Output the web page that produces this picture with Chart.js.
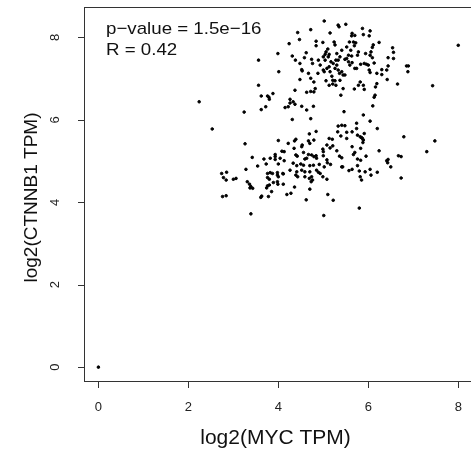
<!DOCTYPE html>
<html>
<head>
<meta charset="utf-8">
<script src="https://cdn.jsdelivr.net/npm/chart.js@4.4.1/dist/chart.umd.min.js"></script>
<style>
html, body { margin: 0; padding: 0; background: #fff; overflow: hidden; }
#wrap { position: absolute; left: 0; top: 0; width: 480px; height: 454px; }
canvas { display: block; }
</style>
</head>
<body>
<div id="wrap"><canvas id="scatter" width="480" height="454"></canvas></div>
<script>
// log2(MYC TPM) per sample
const mycLog2 = [
	5.02, 4.43, 4.72, 5.15, 4.24, 4.47, 4.84, 4.99, 4.84, 3.99,
	3.56, 4.31, 4.62, 4.58, 4.38, 4.48, 4.74, 4.89, 4.76, 4.93,
	4.52, 4.53, 4.67, 4.88, 4.01, 4.48, 4.72, 4.79, 3.56,
	4.37, 4.82, 4.63, 4.72, 4.79, 3.62, 3.76, 3.88, 3.80, 3.79,
	4.26, 4.33, 4.37, 4.26, 4.15, 4.22, 3.72, 3.62, 4.52, 4.63,
	4.78, 3.24, 2.24, 4.31, 4.72, 2.53,
	5.33, 5.35, 5.50, 5.87, 6.04, 5.64, 5.63, 5.70, 5.89, 6.02,
	5.24, 5.26, 5.58, 5.67, 5.72, 5.69, 6.24, 6.11, 6.09, 6.54,
	6.56, 8.00, 5.10, 5.06, 5.04, 5.13, 5.41, 5.52, 5.61, 5.00,
	5.04, 5.11, 5.30, 5.33, 5.37, 5.48, 5.52, 5.56, 5.63, 5.78,
	5.76, 5.94, 6.06, 6.04, 6.09, 6.44, 6.56, 5.17, 5.22, 5.28,
	5.30, 5.56, 5.59, 5.64, 5.83, 5.91, 5.96, 6.00, 6.13, 5.00,
	5.02, 5.08, 5.13, 5.15, 5.26, 5.33, 5.36, 5.41, 5.44, 5.48,
	5.70, 5.74, 6.02, 6.04, 6.30, 6.41, 6.44, 6.85, 6.89, 6.88,
	6.19, 6.30, 5.19, 5.21, 5.26, 5.06, 5.37, 5.13, 5.21, 5.28,
	5.82, 5.78, 5.89, 5.91, 5.69, 6.19, 6.16, 6.42, 6.65, 7.43,
	5.44, 5.39, 6.15, 6.13, 6.10, 5.46, 5.89, 6.04, 5.33, 5.41,
	5.48, 5.74, 5.74, 6.20,
	3.26, 4.00, 4.22, 4.36, 4.39, 4.52, 4.53, 4.69, 4.84, 4.67,
	4.79, 4.70, 4.35, 4.39, 4.42, 4.56, 4.67, 4.74, 4.79, 4.84,
	4.59, 4.63, 4.85, 5.08, 3.42, 3.68, 3.82, 3.93, 3.93, 3.93,
	4.04, 4.08, 4.13, 4.13, 4.00, 3.73, 3.54, 3.28, 4.33, 4.41,
	4.50, 4.56, 4.70, 4.78, 4.91, 4.26, 4.41, 4.52, 4.59, 4.70,
	4.85, 4.89, 3.76, 3.82, 3.87, 3.98, 3.98, 4.00, 4.10, 4.11,
	3.76, 3.80, 3.89, 3.98, 3.99, 4.11, 3.76, 3.80, 3.74, 2.74,
	2.85, 2.78, 2.84, 3.00, 3.06, 3.31, 3.36, 3.37, 3.43, 3.39,
	4.39, 4.43, 4.59, 4.69, 4.74, 4.76, 4.73, 4.36, 4.70, 2.76,
	2.84, 3.61, 3.63, 3.78, 3.85, 4.19, 4.28, 4.62, 3.39,
	5.32, 5.39, 5.52, 5.64, 5.52, 5.76, 5.82, 5.87, 5.89, 5.88,
	5.85, 5.91, 6.79, 7.48, 5.13, 5.20, 5.08, 5.15, 5.21, 4.99,
	5.00, 5.00, 5.30, 5.64, 5.83, 6.24, 7.30, 5.70, 5.67, 5.36,
	5.41, 5.76, 5.83, 5.95, 6.41, 6.43, 6.44, 6.67, 6.73, 5.09,
	5.16, 5.02, 5.41, 5.43, 5.76, 6.50, 5.57, 5.64, 5.80, 5.93,
	6.04, 6.20, 4.93, 4.99, 5.08, 5.82, 5.85, 6.06, 6.73, 5.10,
	5.22, 5.80, 5.01,
	0.00
];

// log2(CTNNB1 TPM), same sample order
const ctnnb1Log2 = [
	8.40, 8.12, 8.19, 8.11, 7.85, 7.95, 7.91, 7.88, 7.80, 7.61,
	7.45, 7.55, 7.63, 7.51, 7.45, 7.37, 7.47, 7.45, 7.37, 7.33,
	7.22, 7.19, 7.13, 7.13, 7.17, 6.98, 7.01, 6.92, 6.84,
	6.72, 6.76, 6.67, 6.69, 6.68, 6.58, 6.58, 6.64, 6.50, 6.55,
	6.50, 6.44, 6.38, 6.41, 6.30, 6.32, 6.32, 6.25, 6.33, 6.24,
	6.33, 6.19, 6.44, 6.01, 6.03, 5.78,
	8.30, 8.26, 8.32, 8.22, 8.16, 8.10, 8.04, 8.05, 8.07, 8.04,
	7.89, 7.82, 7.89, 7.89, 7.87, 7.80, 7.88, 7.82, 7.76, 7.75,
	7.64, 7.81, 7.72, 7.65, 7.59, 7.59, 7.69, 7.77, 7.69, 7.53,
	7.45, 7.53, 7.61, 7.45, 7.53, 7.47, 7.49, 7.57, 7.55, 7.65,
	7.57, 7.61, 7.65, 7.57, 7.51, 7.51, 7.49, 7.41, 7.37, 7.45,
	7.33, 7.41, 7.33, 7.39, 7.35, 7.37, 7.35, 7.33, 7.38, 7.21,
	7.17, 7.25, 7.29, 7.17, 7.25, 7.21, 7.13, 7.17, 7.09, 7.09,
	7.25, 7.25, 7.21, 7.15, 7.22, 7.21, 7.31, 7.31, 7.31, 7.17,
	7.13, 7.10, 7.06, 6.96, 6.95, 6.95, 6.96, 6.84, 6.87, 6.84,
	6.92, 6.84, 6.84, 6.74, 6.75, 6.88, 6.80, 6.98, 6.87, 6.83,
	6.76, 6.60, 6.60, 6.55, 6.34, 6.20, 6.12, 5.97, 5.85, 5.87,
	5.86, 5.92, 5.79, 5.79,
	5.42, 5.50, 5.43, 5.49, 5.53, 5.35, 5.39, 5.66, 5.72, 5.49,
	5.51, 5.43, 5.31, 5.15, 5.12, 5.21, 5.16, 5.15, 5.11, 5.13,
	5.05, 5.07, 5.07, 5.03, 5.09, 5.05, 5.07, 5.16, 5.11, 5.04,
	5.07, 5.24, 5.23, 5.01, 4.93, 4.93, 4.88, 4.80, 4.95, 4.89,
	4.93, 4.90, 4.89, 4.90, 4.92, 4.78, 4.74, 4.78, 4.74, 4.74,
	4.78, 4.73, 4.70, 4.72, 4.70, 4.72, 4.66, 4.62, 4.70, 4.69,
	4.60, 4.56, 4.48, 4.50, 4.44, 4.44, 4.40, 4.42, 4.35, 4.70,
	4.73, 4.60, 4.54, 4.56, 4.58, 4.50, 4.44, 4.35, 4.34, 4.38,
	4.66, 4.62, 4.62, 4.58, 4.62, 4.54, 4.50, 4.37, 4.32, 4.14,
	4.16, 4.12, 4.15, 4.14, 4.26, 4.19, 4.22, 4.06, 3.72,
	5.71, 5.61, 5.70, 5.71, 5.55, 5.63, 5.59, 5.55, 5.51, 5.45,
	5.57, 5.67, 5.59, 5.49, 5.55, 5.53, 5.39, 5.32, 5.37, 5.29,
	5.23, 5.13, 5.25, 5.35, 5.31, 5.25, 5.23, 5.21, 5.16, 5.12,
	5.08, 5.05, 5.02, 5.12, 5.01, 4.96, 5.04, 5.13, 5.11, 4.96,
	4.92, 4.86, 4.86, 4.86, 4.89, 4.86, 4.77, 4.80, 4.76, 4.74,
	4.80, 4.73, 4.70, 4.62, 4.56, 4.62, 4.54, 4.66, 4.59, 4.19,
	4.05, 3.86, 3.68,
	0.00
];

const xTickValues = [0, 2, 4, 6, 8];
const yTickValues = [0, 2, 4, 6, 8];
const statLines = ['p\u2212value = 1.5e\u221216', 'R = 0.42'];
const xTitle = 'log2(MYC TPM)';
const yTitle = 'log2(CTNNB1 TPM)';

const fontFamily = '"Liberation Sans", Arial, Helvetica, sans-serif';
const TICK_LEN = 7;

// The chart area is kept TICK_LEN wider on the left and bottom, so the R box
// sits inset by that much and the outward tick marks still fall inside it.
const boxAndStats = {
	id: 'boxAndStats',
	afterDraw(chart) {
		const { ctx, chartArea: a, scales } = chart;
		const boxLeft = Math.round(a.left) + TICK_LEN;
		const boxBottom = Math.round(a.bottom) - TICK_LEN;
		const top = Math.round(a.top);
		const right = Math.round(a.right);
		ctx.save();
		ctx.fillStyle = '#333';
		ctx.fillRect(boxLeft, top, right - boxLeft, 1);
		ctx.fillRect(boxLeft, boxBottom, right - boxLeft, 1);
		ctx.fillRect(boxLeft, top, 1, boxBottom - top + 1);
		xTickValues.forEach(v => {
			const px = Math.round(scales.x.getPixelForValue(v));
			ctx.fillRect(px, boxBottom, 1, TICK_LEN);
		});
		yTickValues.forEach(v => {
			const py = Math.round(scales.y.getPixelForValue(v));
			ctx.fillRect(boxLeft - TICK_LEN + 1, py, TICK_LEN, 1);
		});

		ctx.fillStyle = '#111';
		ctx.font = '17px ' + fontFamily;
		statLines.forEach((t, i) => {
			ctx.save();
			ctx.translate(boxLeft + 22, top + 27 + i * 21);
			ctx.scale(1.1, 1);
			ctx.fillText(t, 0, 0);
			ctx.restore();
		});
		ctx.restore();
	}
};

new Chart(document.getElementById('scatter'), {
	type: 'scatter',
	data: {
		datasets: [{
			data: mycLog2.map((x, i) => ({ x, y: ctnnb1Log2[i] })),
			pointRadius: 1.3,
			pointBackgroundColor: '#000',
			pointBorderColor: '#000'
		}]
	},
	options: {
		responsive: false,
		devicePixelRatio: 1,
		animation: false,
		events: [],
		layout: { padding: { top: 7, right: 6 } },
		plugins: { legend: { display: false }, tooltip: { enabled: false } },
		scales: {
			x: {
				type: 'linear',
				min: -0.476,
				max: 8.35,
				afterBuildTicks: s => { s.ticks = xTickValues.map(v => ({ value: v })); },
				afterFit: s => { s.height = 66; s.paddingLeft = 0; s.paddingRight = 0; },
				grid: { display: false, drawTicks: false },
				border: { display: false },
				ticks: { padding: 12, color: '#222', autoSkip: false, maxRotation: 0, font: { size: 13, family: fontFamily } },
				title: { display: true, text: xTitle, color: '#111', font: { size: 21, family: fontFamily }, padding: { top: 0, bottom: 3 } }
			},
			y: {
				type: 'linear',
				min: -0.506,
				max: 8.74,
				afterBuildTicks: s => { s.ticks = yTickValues.map(v => ({ value: v })); },
				afterFit: s => { s.width = 77; s.paddingTop = 0; s.paddingBottom = 0; },
				grid: { display: false, drawTicks: false },
				border: { display: false },
				ticks: { padding: 18, color: '#222', autoSkip: false, minRotation: 90, maxRotation: 90, crossAlign: 'center', font: { size: 13, family: fontFamily } },
				title: { display: true, text: yTitle, color: '#111', font: { size: 19, family: fontFamily }, padding: { top: 20, bottom: 0 } }
			}
		}
	},
	plugins: [boxAndStats]
});
</script>
</body>
</html>
